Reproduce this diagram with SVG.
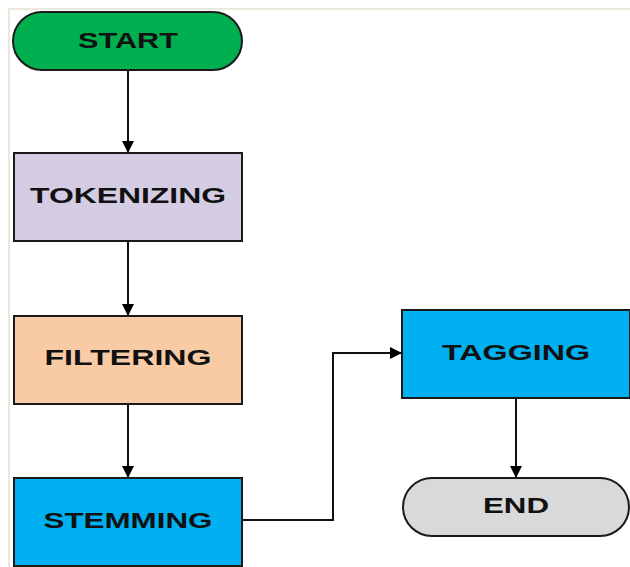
<svg xmlns="http://www.w3.org/2000/svg" width="630" height="567" viewBox="0 0 630 567">
<defs>
<marker id="ah" markerWidth="12" markerHeight="12" refX="11" refY="6" orient="auto" markerUnits="userSpaceOnUse">
<path d="M0,0 L12,6 L0,12 Z" fill="#000"/>
</marker>
<style>
.box{stroke:#1a1a1a;stroke-width:2}
.lbl{font-family:"Liberation Sans",Arial,sans-serif;font-weight:bold;font-size:22px;fill:#111;text-anchor:middle}
.conn{stroke:#111;stroke-width:2;fill:none;marker-end:url(#ah)}
</style>
</defs>
<rect width="630" height="567" fill="#fff"/>
<path d="M9,567 V9 H630" fill="none" stroke="#e2e2d4" stroke-width="1.5"/>
<g id="start"><rect class="box" x="13" y="12" width="229" height="58" rx="29" fill="#00b050"/><text class="lbl" x="128" y="48" textLength="100" lengthAdjust="spacingAndGlyphs">START</text></g>
<g id="tokenizing"><rect class="box" x="14" y="153" width="228" height="88" fill="#d3cce2"/><text class="lbl" x="128" y="203" textLength="196" lengthAdjust="spacingAndGlyphs">TOKENIZING</text></g>
<g id="filtering"><rect class="box" x="14" y="316" width="228" height="88" fill="#f8cba5"/><text class="lbl" x="128" y="365" textLength="167" lengthAdjust="spacingAndGlyphs">FILTERING</text></g>
<g id="stemming"><rect class="box" x="14" y="478" width="228" height="88" fill="#00b0f0"/><text class="lbl" x="128" y="528" textLength="169" lengthAdjust="spacingAndGlyphs">STEMMING</text></g>
<g id="tagging"><rect class="box" x="402" y="310" width="228" height="88" fill="#00b0f0"/><text class="lbl" x="516" y="360" textLength="148" lengthAdjust="spacingAndGlyphs">TAGGING</text></g>
<g id="end"><rect class="box" x="403" y="478" width="226" height="58" rx="29" fill="#d9d9d9"/><text class="lbl" x="516" y="513" textLength="66" lengthAdjust="spacingAndGlyphs">END</text></g>
<g id="connectors">
<line class="conn" x1="128" y1="70" x2="128" y2="152"/>
<line class="conn" x1="128" y1="241" x2="128" y2="315"/>
<line class="conn" x1="128" y1="404" x2="128" y2="477"/>
<polyline class="conn" points="242,520 333,520 333,353 401,353"/>
<line class="conn" x1="516" y1="398" x2="516" y2="477"/>
</g>
</svg>
